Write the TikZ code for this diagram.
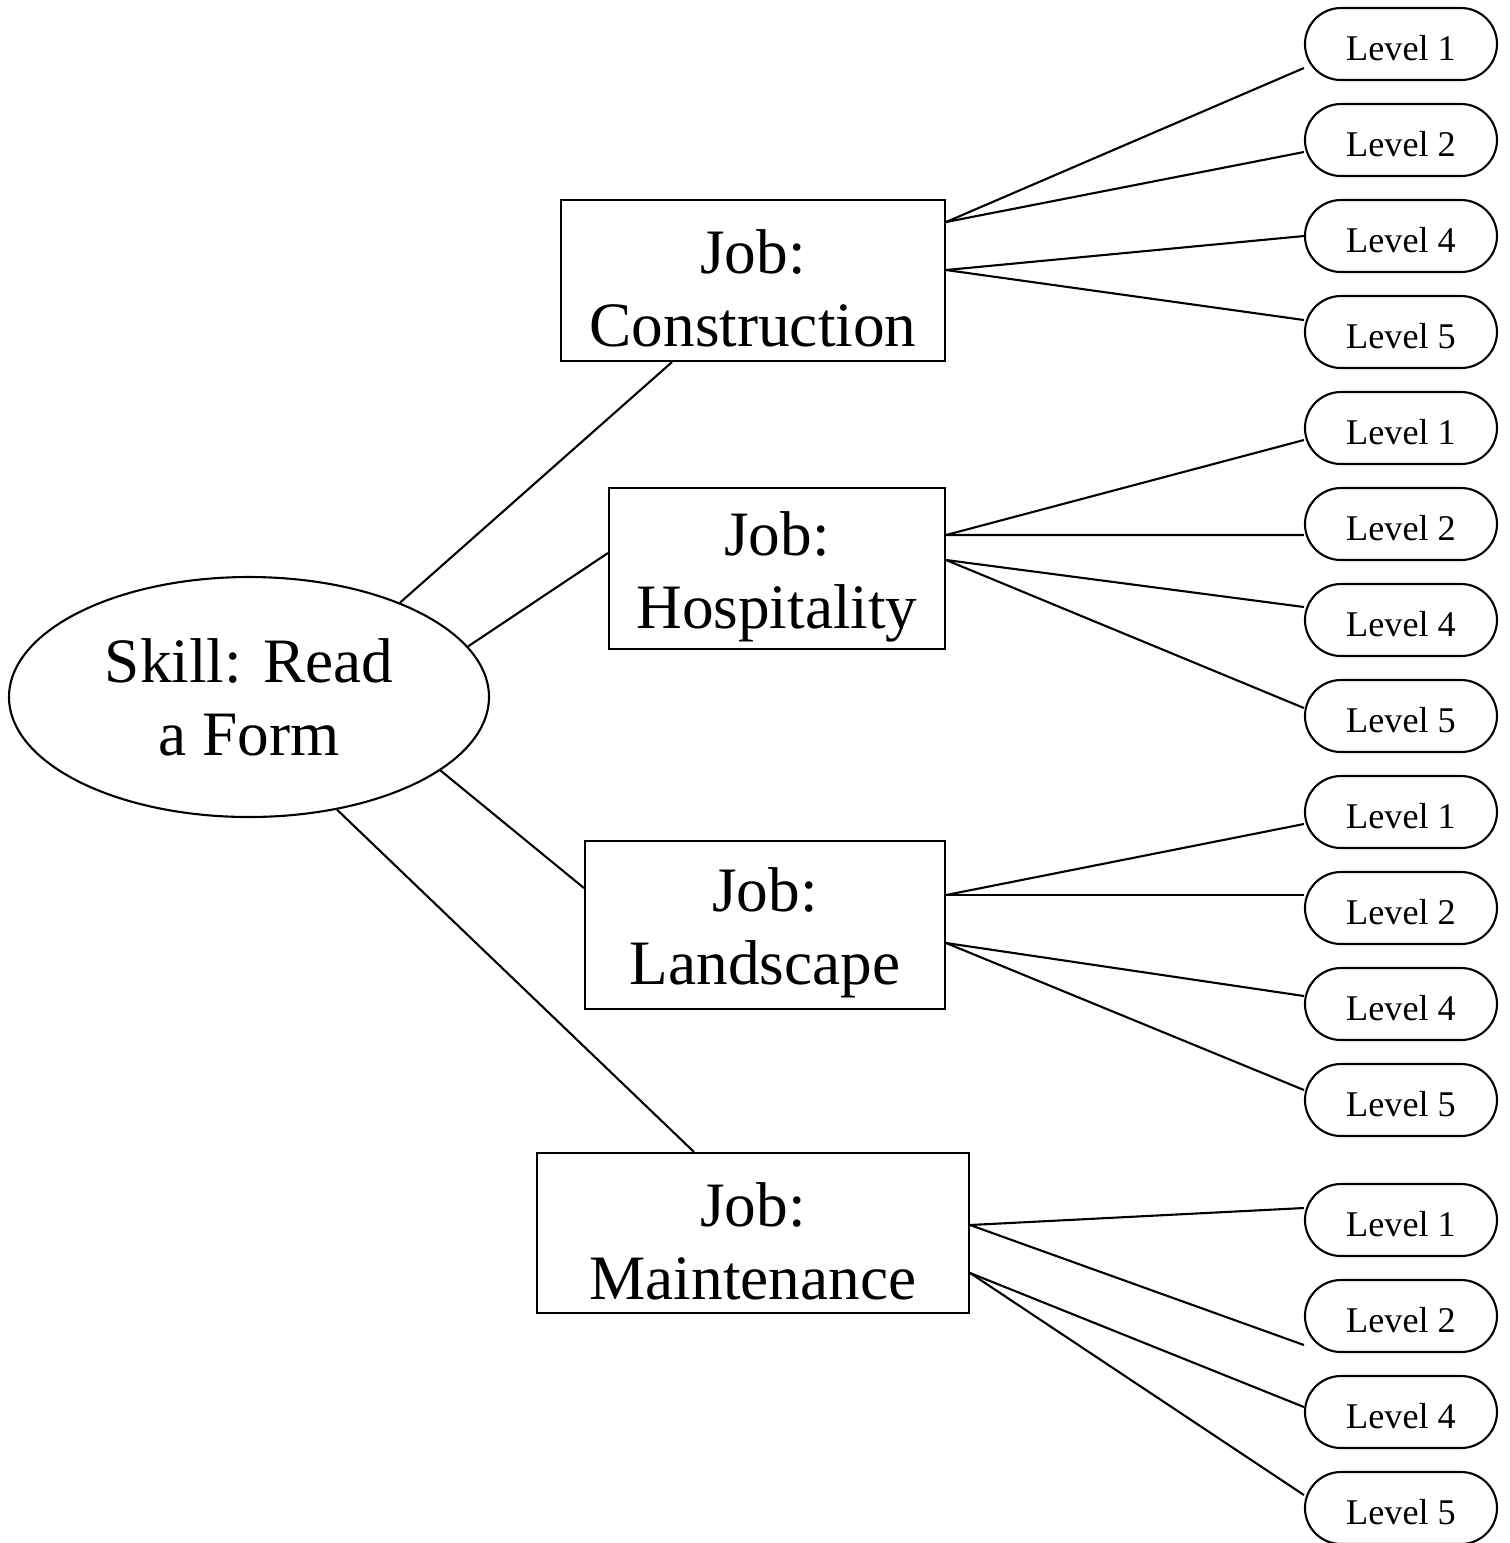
\documentclass[tikz,border=0pt]{standalone}
\usepackage{fontspec}
\setmainfont{Liberation Serif}
\usetikzlibrary{shapes.geometric}
\newcommand{\jobstrut}{\rule{0pt}{17pt}}

\begin{document}
\begin{tikzpicture}[line width=0.6pt,
    job/.style={draw, rectangle, align=center, inner sep=0pt, font=\fontsize{18}{20.8}\selectfont},
    level/.style={draw, rectangle, rounded corners=0.36cm, minimum width=1.92cm, minimum height=0.72cm, inner sep=0pt, text height=9.2pt, text depth=0pt, font=\fontsize{10.3}{12}\selectfont}]
    \useasboundingbox (0,0) rectangle (15.1,-15.43);

    % skill and jobs
    \node at (2.49,-6.97) [draw, ellipse, minimum width=4.8cm, minimum height=2.4cm, inner sep=0pt, align=center, font=\fontsize{18}{20.8}\selectfont] (S) {Skill: Read\\a Form};
    \node at (7.53,-2.805) [job, minimum width=3.84cm, minimum height=1.61cm] (C) {\jobstrut Job:\\Construction};
    \node at (7.77,-5.685) [job, minimum width=3.36cm, minimum height=1.61cm] (H) {\jobstrut Job:\\Hospitality};
    \node at (7.65,-9.25) [job, minimum width=3.6cm, minimum height=1.68cm] (L) {\jobstrut Job:\\Landscape};
    \node at (7.53,-12.33) [job, minimum width=4.32cm, minimum height=1.6cm] (M) {\jobstrut Job:\\Maintenance};

    % levels
    \foreach \j/\y in {C/0.44, H/4.28, L/8.12, M/12.2} {
        \node at (14.01,-\y) [level] (\j1) {Level 1};
        \node at (14.01,-\y-0.96) [level] (\j2) {Level 2};
        \node at (14.01,-\y-1.92) [level] (\j4) {Level 4};
        \node at (14.01,-\y-2.88) [level] (\j5) {Level 5};
    }

    \draw (S.32) -- ([xshift=-0.81cm]C.south);
    \draw (S.13) -- ([yshift=0.155cm]H.west);
    \draw (S.-21) -- ([yshift=0.37cm]L.west);
    \draw (S.-52) -- ([xshift=-0.59cm]M.north);

    \draw ([yshift=0.585cm]C.east) -- ([yshift=-0.24cm]C1.west);
    \draw ([yshift=0.585cm]C.east) -- ([yshift=-0.12cm]C2.west);
    \draw ([yshift=0.105cm]C.east) -- (C4.west);
    \draw ([yshift=0.105cm]C.east) -- ([yshift=0.12cm]C5.west);

    \draw ([yshift=0.335cm]H.east) -- ([yshift=-0.12cm]H1.west);
    \draw ([yshift=0.335cm]H.east) -- ([yshift=-0.11cm]H2.west);
    \draw ([yshift=0.085cm]H.east) -- ([yshift=0.13cm]H4.west);
    \draw ([yshift=0.085cm]H.east) -- ([yshift=0.08cm]H5.west);

    \draw ([yshift=0.3cm]L.east) -- ([yshift=-0.12cm]L1.west);
    \draw ([yshift=0.3cm]L.east) -- ([yshift=0.13cm]L2.west);
    \draw ([yshift=-0.18cm]L.east) -- ([yshift=0.08cm]L4.west);
    \draw ([yshift=-0.18cm]L.east) -- ([yshift=0.1cm]L5.west);

    \draw ([yshift=0.08cm]M.east) -- ([yshift=0.12cm]M1.west);
    \draw ([yshift=0.08cm]M.east) -- ([yshift=-0.29cm]M2.west);
    \draw ([yshift=-0.4cm]M.east) -- ([yshift=0.05cm]M4.west);
    \draw ([yshift=-0.4cm]M.east) -- ([yshift=0.13cm]M5.west);
\end{tikzpicture}
\end{document}
